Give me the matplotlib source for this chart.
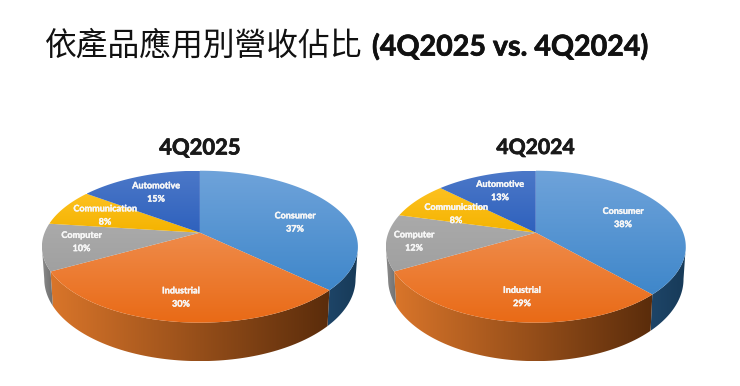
import numpy as np
import matplotlib
matplotlib.use('Agg')
import matplotlib.pyplot as plt
import matplotlib.patheffects as pe
from matplotlib.colors import LinearSegmentedColormap
from matplotlib.patches import Polygon

# datos
categorias = ['Consumer', 'Industrial', 'Computer', 'Communication', 'Automotive']
valores_2025 = [37, 30, 10, 8, 15]
valores_2024 = [38, 29, 12, 8, 13]

titulo_cjk = '依產品應用別營收佔比'
titulo_latin = '(4Q2025 vs. 4Q2024)'

# colores: cara superior (arriba, abajo) y lateral (izquierda, derecha)
color_cara = [('#6fa3da', '#3f87ca'), ('#ef8b4a', '#e96a16'), ('#aaaaaa', '#a0a0a0'),
              ('#fdc11f', '#f4b300'), ('#4c78c8', '#2e61bd')]
color_lado = [('#1e4568', '#173a58'), ('#d9752a', '#5a2c0b'), ('#8c8c8c', '#6e6e6e'),
              ('#8c8c8c', '#6e6e6e'), ('#8c8c8c', '#6e6e6e')]

# perspectiva
P = 0.184
K = 73.4
CY = 232.7
D0 = 31.4
ENCOGE = 0.985


def proyectar(cx, r, theta):
    u, v = np.sin(theta), np.cos(theta)
    s = 1 / (1 + P * v)
    return cx + r * u * s, CY - K * v * s, D0 * s


def rellenar(ax, puntos, c1, c2, horizontal=False):
    puntos = np.array(puntos)
    x0, y0 = puntos.min(axis=0)
    x1, y1 = puntos.max(axis=0)
    cmap = LinearSegmentedColormap.from_list('g', [c1, c2])
    grad = np.linspace(0, 1, 256)
    grad = grad.reshape(1, -1) if horizontal else grad.reshape(-1, 1)
    im = ax.imshow(grad, cmap=cmap, extent=(x0, x1, y1, y0), origin='upper',
                   aspect='auto', interpolation='bilinear', zorder=2)
    parche = Polygon(puntos, closed=True, transform=ax.transData)
    im.set_clip_path(parche)


def pastel(ax, cx, r, valores):
    cortes = np.deg2rad(np.cumsum([0] + valores) * 3.6)
    t_der = np.arccos(-P)
    t_izq = 2 * np.pi - t_der

    # lateral primero
    for i in range(len(valores)):
        a = max(cortes[i], t_der)
        b = min(cortes[i + 1], t_izq)
        if a >= b:
            continue
        t = np.linspace(a, b, 80)
        x, y, d = proyectar(cx, r, t)
        xb = cx + (x - cx) * ENCOGE
        pts = np.vstack([np.column_stack([x, y]),
                         np.column_stack([xb, y + d])[::-1]])
        rellenar(ax, pts, color_lado[i][0], color_lado[i][1], horizontal=True)

    # cara superior
    for i in range(len(valores)):
        t = np.linspace(cortes[i], cortes[i + 1], 120)
        x, y, _ = proyectar(cx, r, t)
        pts = np.vstack([[cx, CY], np.column_stack([x, y])])
        rellenar(ax, pts, color_cara[i][0], color_cara[i][1])


fig = plt.figure(figsize=(7.4, 3.86), dpi=100)
ax = fig.add_axes([0, 0, 1, 1])

pastel(ax, 199.9, 155.3, valores_2025)
pastel(ax, 535.8, 147.4, valores_2024)

ax.set_xlim(0, 740)
ax.set_ylim(386, 0)
ax.axis('off')

grueso = [pe.withStroke(linewidth=0.5, foreground='#111111')]

# titulos
ax.text(45, 46, titulo_cjk, family='Noto Sans CJK TC', fontsize=22.9, color='#111111',
        ha='left', va='center', zorder=5)
ax.text(372, 47, titulo_latin, family='Lato', fontweight='bold', fontsize=20.6, color='#111111',
        ha='left', va='center', zorder=5, path_effects=grueso)
ax.text(200, 148, '4Q2025', family='Lato', fontweight='bold', fontsize=15.8, color='#1a1a1a',
        ha='center', va='center', zorder=5, path_effects=grueso)
ax.text(535.5, 148, '4Q2024', family='Lato', fontweight='bold', fontsize=15.2, color='#1a1a1a',
        ha='center', va='center', zorder=5, path_effects=grueso)

# etiquetas
pos_2025 = [(295, 222.5), (181, 297.5), (81.5, 242), (105, 215.5), (156, 192.5)]
pos_2024 = [(623, 218), (522, 297), (414, 241.5), (456, 214), (500, 191)]

for pos, valores in [(pos_2025, valores_2025), (pos_2024, valores_2024)]:
    for (x, y), nombre, valor in zip(pos, categorias, valores):
        ax.text(x, y, f'{nombre}\n{valor}%', family='Lato', fontweight='bold', fontsize=6.5,
                color='#f7f7f7', ha='center', va='center', linespacing=1.6, zorder=6,
                path_effects=[pe.withStroke(linewidth=0.25, foreground='#f7f7f7')])

fig.savefig('out.png', dpi=100)
